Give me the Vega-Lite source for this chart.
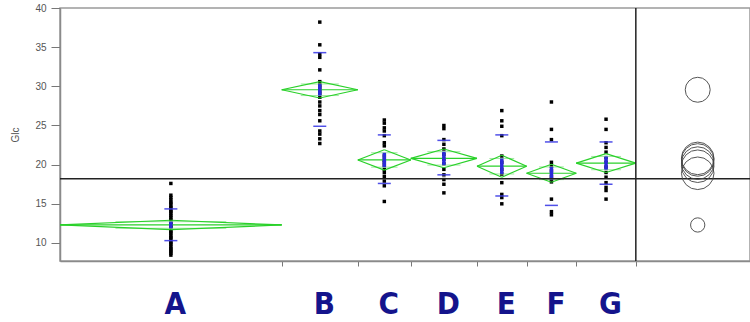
{
  "$schema": "https://vega.github.io/schema/vega-lite/v6.json",
  "width": 690,
  "height": 253,
  "autosize": {"type": "none"},
  "padding": {"left": 60, "top": 8, "right": 0, "bottom": 61},
  "background": "white",
  "config": {
    "view": {"stroke": "#9a9a9a", "strokeWidth": 1.5},
    "axis": {"grid": false, "domainColor": "#8a8a8a", "domainWidth": 1.5, "tickColor": "#777", "labelFont": "Liberation Sans", "titleFont": "Liberation Sans"}
  },
  "datasets": {
    "grp": [
      {"group": "A", "start": 0, "end": 67, "mid": 33.5, "mean": 12.3, "ciLow": 11.7, "ciHigh": 12.9, "olLow": 11.88, "olHigh": 12.72, "olStart": 16.75, "olEnd": 50.25, "sdLow": 10.3, "sdHigh": 14.35, "circleR": 1.03},
      {"group": "B", "start": 67, "end": 90, "mid": 78.5, "mean": 29.56, "ciLow": 28.51, "ciHigh": 30.61, "olLow": 28.82, "olHigh": 30.3, "olStart": 72.75, "olEnd": 84.25, "sdLow": 24.9, "sdHigh": 34.3, "circleR": 1.8},
      {"group": "C", "start": 90, "end": 106, "mid": 98, "mean": 20.6, "ciLow": 19.3, "ciHigh": 21.9, "olLow": 19.68, "olHigh": 21.52, "olStart": 94, "olEnd": 102, "sdLow": 17.6, "sdHigh": 23.8, "circleR": 2.35},
      {"group": "D", "start": 106, "end": 126, "mid": 116, "mean": 20.8, "ciLow": 19.6, "ciHigh": 22.0, "olLow": 19.95, "olHigh": 21.65, "olStart": 111, "olEnd": 121, "sdLow": 18.7, "sdHigh": 23.1, "circleR": 2.35},
      {"group": "E", "start": 126, "end": 141, "mid": 133.5, "mean": 19.8, "ciLow": 18.4, "ciHigh": 21.2, "olLow": 18.81, "olHigh": 20.79, "olStart": 129.75, "olEnd": 137.25, "sdLow": 16.0, "sdHigh": 23.8, "circleR": 2.35},
      {"group": "F", "start": 141, "end": 156, "mid": 148.5, "mean": 18.9, "ciLow": 17.75, "ciHigh": 20.05, "olLow": 18.09, "olHigh": 19.71, "olStart": 144.75, "olEnd": 152.25, "sdLow": 14.8, "sdHigh": 22.9, "circleR": 2.35},
      {"group": "G", "start": 156, "end": 174, "mid": 165, "mean": 20.2, "ciLow": 19.0, "ciHigh": 21.4, "olLow": 19.35, "olHigh": 21.05, "olStart": 160.5, "olEnd": 169.5, "sdLow": 17.5, "sdHigh": 22.9, "circleR": 2.35}
    ],
    "pts": [
      {"group": "A", "value": 17.6}, {"group": "A", "value": 16.1}, {"group": "A", "value": 15.8}, {"group": "A", "value": 15.5}, {"group": "A", "value": 15.2}, {"group": "A", "value": 15.0}, {"group": "A", "value": 14.7}, {"group": "A", "value": 14.5}, {"group": "A", "value": 14.2}, {"group": "A", "value": 14.0}, {"group": "A", "value": 13.8}, {"group": "A", "value": 13.5}, {"group": "A", "value": 13.3}, {"group": "A", "value": 13.0}, {"group": "A", "value": 12.8}, {"group": "A", "value": 12.6}, {"group": "A", "value": 12.3}, {"group": "A", "value": 12.1}, {"group": "A", "value": 11.9}, {"group": "A", "value": 11.6}, {"group": "A", "value": 11.4}, {"group": "A", "value": 11.2}, {"group": "A", "value": 10.9}, {"group": "A", "value": 10.7}, {"group": "A", "value": 10.5}, {"group": "A", "value": 10.2}, {"group": "A", "value": 10.0}, {"group": "A", "value": 9.8}, {"group": "A", "value": 9.5}, {"group": "A", "value": 9.3}, {"group": "A", "value": 9.1}, {"group": "A", "value": 8.9}, {"group": "A", "value": 8.7}, {"group": "A", "value": 8.45},
      {"group": "B", "value": 38.2}, {"group": "B", "value": 35.3}, {"group": "B", "value": 34.1}, {"group": "B", "value": 33.7}, {"group": "B", "value": 32.1}, {"group": "B", "value": 30.6}, {"group": "B", "value": 30.2}, {"group": "B", "value": 29.8}, {"group": "B", "value": 29.4}, {"group": "B", "value": 29.0}, {"group": "B", "value": 28.6}, {"group": "B", "value": 28.0}, {"group": "B", "value": 27.5}, {"group": "B", "value": 26.9}, {"group": "B", "value": 26.4}, {"group": "B", "value": 25.6}, {"group": "B", "value": 24.3}, {"group": "B", "value": 23.9}, {"group": "B", "value": 23.3}, {"group": "B", "value": 22.7},
      {"group": "C", "value": 25.7}, {"group": "C", "value": 25.3}, {"group": "C", "value": 24.7}, {"group": "C", "value": 24.3}, {"group": "C", "value": 23.7}, {"group": "C", "value": 22.8}, {"group": "C", "value": 22.4}, {"group": "C", "value": 21.1}, {"group": "C", "value": 20.6}, {"group": "C", "value": 20.3}, {"group": "C", "value": 19.9}, {"group": "C", "value": 19.4}, {"group": "C", "value": 19.0}, {"group": "C", "value": 18.5}, {"group": "C", "value": 17.9}, {"group": "C", "value": 17.3}, {"group": "C", "value": 15.3},
      {"group": "D", "value": 25.0}, {"group": "D", "value": 24.6}, {"group": "D", "value": 23.2}, {"group": "D", "value": 22.6}, {"group": "D", "value": 22.0}, {"group": "D", "value": 21.3}, {"group": "D", "value": 20.7}, {"group": "D", "value": 20.1}, {"group": "D", "value": 19.4}, {"group": "D", "value": 18.7}, {"group": "D", "value": 18.1}, {"group": "D", "value": 17.5}, {"group": "D", "value": 16.4},
      {"group": "E", "value": 26.9}, {"group": "E", "value": 25.6}, {"group": "E", "value": 24.9}, {"group": "E", "value": 23.7}, {"group": "E", "value": 21.1}, {"group": "E", "value": 20.3}, {"group": "E", "value": 19.4}, {"group": "E", "value": 18.8}, {"group": "E", "value": 17.7}, {"group": "E", "value": 16.2}, {"group": "E", "value": 15.8}, {"group": "E", "value": 15.0},
      {"group": "F", "value": 28.0}, {"group": "F", "value": 24.5}, {"group": "F", "value": 23.2}, {"group": "F", "value": 20.3}, {"group": "F", "value": 19.8}, {"group": "F", "value": 19.2}, {"group": "F", "value": 18.5}, {"group": "F", "value": 18.1}, {"group": "F", "value": 17.8}, {"group": "F", "value": 15.6}, {"group": "F", "value": 14.0}, {"group": "F", "value": 13.6},
      {"group": "G", "value": 25.8}, {"group": "G", "value": 24.5}, {"group": "G", "value": 22.8}, {"group": "G", "value": 22.2}, {"group": "G", "value": 21.6}, {"group": "G", "value": 20.9}, {"group": "G", "value": 20.3}, {"group": "G", "value": 19.7}, {"group": "G", "value": 19.0}, {"group": "G", "value": 18.4}, {"group": "G", "value": 17.7}, {"group": "G", "value": 17.1}, {"group": "G", "value": 16.7}, {"group": "G", "value": 15.6}
    ]
  },
  "layer": [
    {
      "data": {"name": "pts"},
      "transform": [{"lookup": "group", "from": {"data": {"name": "grp"}, "key": "group", "fields": ["mid"]}}],
      "mark": {"type": "square", "size": 12, "color": "#000", "opacity": 1},
      "encoding": {
        "x": {
          "field": "mid", "type": "quantitative",
          "scale": {"domain": [0, 208.5], "nice": false, "zero": false},
          "axis": {
            "title": null,
            "values": [33.5, 67, 78.5, 90, 98, 106, 116, 126, 133.5, 141, 148.5, 156, 165, 174],
            "labelExpr": "datum.value == 33.5 ? 'A' : datum.value == 78.5 ? 'B' : datum.value == 98 ? 'C' : datum.value == 116 ? 'D' : datum.value == 133.5 ? 'E' : datum.value == 148.5 ? 'F' : datum.value == 165 ? 'G' : ''",
            "tickOpacity": {"condition": {"test": "indexof([67, 90, 106, 126, 141, 156, 174], datum.value) >= 0", "value": 1}, "value": 0},
            "tickSize": 5,
            "labelPadding": 23,
            "labelOffset": 4,
            "labelFont": "DejaVu Sans Condensed, DejaVu Sans",
            "labelFontSize": 31,
            "labelFontWeight": "bold",
            "labelColor": "#14148c",
            "labelOverlap": false,
            "labelFlush": false,
            "labelBound": false
          }
        },
        "y": {
          "field": "value", "type": "quantitative", "title": "Glc",
          "scale": {"domain": [7.7, 40], "nice": false, "zero": false},
          "axis": {
            "values": [10, 12.5, 15, 17.5, 20, 22.5, 25, 27.5, 30, 32.5, 35, 37.5, 40],
            "labelExpr": "datum.value % 5 == 0 ? datum.label : ''",
            "tickSize": {"condition": {"test": "datum.value % 5 == 0", "value": 9}, "value": 5},
            "labelPadding": 5,
            "labelFontSize": 10,
            "labelColor": "#555",
            "titleFontSize": 10,
            "titleFontWeight": "normal",
            "titleColor": "#555",
            "titlePadding": 14,
            "labelOverlap": false
          }
        }
      }
    },
    {
      "data": {"name": "grp"},
      "mark": {"type": "rule", "color": "#9fe89f", "strokeWidth": 1},
      "encoding": {"x": {"field": "olStart", "type": "quantitative"}, "x2": {"field": "olEnd"}, "y": {"field": "olLow", "type": "quantitative"}}
    },
    {
      "data": {"name": "grp"},
      "mark": {"type": "rule", "color": "#9fe89f", "strokeWidth": 1},
      "encoding": {"x": {"field": "olStart", "type": "quantitative"}, "x2": {"field": "olEnd"}, "y": {"field": "olHigh", "type": "quantitative"}}
    },
    {
      "data": {"name": "grp"},
      "mark": {"type": "rule", "color": "#2ad12a", "strokeWidth": 1.2},
      "encoding": {"x": {"field": "start", "type": "quantitative"}, "x2": {"field": "end"}, "y": {"field": "mean", "type": "quantitative"}}
    },
    {
      "data": {"name": "grp"},
      "mark": {"type": "rule", "color": "#2ad12a", "strokeWidth": 1.2},
      "encoding": {"x": {"field": "start", "type": "quantitative"}, "y": {"field": "mean", "type": "quantitative"}, "x2": {"field": "mid"}, "y2": {"field": "ciHigh"}}
    },
    {
      "data": {"name": "grp"},
      "mark": {"type": "rule", "color": "#2ad12a", "strokeWidth": 1.2},
      "encoding": {"x": {"field": "mid", "type": "quantitative"}, "y": {"field": "ciHigh", "type": "quantitative"}, "x2": {"field": "end"}, "y2": {"field": "mean"}}
    },
    {
      "data": {"name": "grp"},
      "mark": {"type": "rule", "color": "#2ad12a", "strokeWidth": 1.2},
      "encoding": {"x": {"field": "start", "type": "quantitative"}, "y": {"field": "mean", "type": "quantitative"}, "x2": {"field": "mid"}, "y2": {"field": "ciLow"}}
    },
    {
      "data": {"name": "grp"},
      "mark": {"type": "rule", "color": "#2ad12a", "strokeWidth": 1.2},
      "encoding": {"x": {"field": "mid", "type": "quantitative"}, "y": {"field": "ciLow", "type": "quantitative"}, "x2": {"field": "end"}, "y2": {"field": "mean"}}
    },
    {
      "data": {"name": "grp"},
      "mark": {"type": "tick", "orient": "horizontal", "size": 13, "thickness": 1.5, "color": "#3d3de6", "opacity": 0.9},
      "encoding": {"x": {"field": "mid", "type": "quantitative"}, "y": {"field": "sdLow", "type": "quantitative"}}
    },
    {
      "data": {"name": "grp"},
      "mark": {"type": "tick", "orient": "horizontal", "size": 13, "thickness": 1.5, "color": "#3d3de6", "opacity": 0.9},
      "encoding": {"x": {"field": "mid", "type": "quantitative"}, "y": {"field": "sdHigh", "type": "quantitative"}}
    },
    {
      "data": {"name": "grp"},
      "mark": {"type": "rule", "color": "#2b2bd8", "strokeWidth": 3.5},
      "encoding": {"x": {"field": "mid", "type": "quantitative"}, "y": {"field": "olLow", "type": "quantitative"}, "y2": {"field": "olHigh"}}
    },
    {
      "data": {"values": [{"grandMean": 18.2}]},
      "mark": {"type": "rule", "color": "#222", "strokeWidth": 1.3},
      "encoding": {"y": {"field": "grandMean", "type": "quantitative"}}
    },
    {
      "data": {"values": [{"edge": 174}]},
      "mark": {"type": "rule", "color": "#222", "strokeWidth": 1.5},
      "encoding": {"x": {"field": "edge", "type": "quantitative"}}
    },
    {
      "data": {"name": "grp"},
      "mark": {"type": "point", "shape": "circle", "filled": false, "color": "#444", "strokeWidth": 1, "opacity": 0.9},
      "encoding": {
        "x": {"datum": 192.7, "type": "quantitative"},
        "y": {"field": "mean", "type": "quantitative"},
        "size": {"field": "circleR", "type": "quantitative", "legend": null, "scale": {"type": "pow", "exponent": 2, "domain": [0, 1], "range": [0, 192], "zero": true}}
      }
    }
  ]
}
